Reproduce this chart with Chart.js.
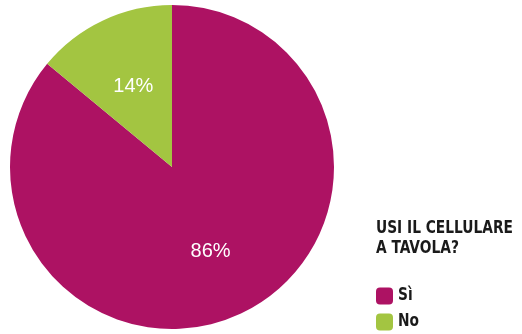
<!DOCTYPE html>
<html>
<head>
<meta charset="utf-8">
<script src="https://cdn.jsdelivr.net/npm/chart.js@4.4.1/dist/chart.umd.min.js"></script>
<style>
  html, body { margin: 0; padding: 0; background: #fff; }
  #wrap { width: 522px; height: 334px; position: relative; }
</style>
</head>
<body>
<div id="wrap"><canvas id="pieChart"></canvas></div>
<script>
// survey answers, share of respondents in percent
const answers = ['Sì', 'No'];
const shares = [86, 14];
const sliceColors = ['#AD1263', '#A3C541'];
const legendTitle = ['USI IL CELLULARE', 'A TAVOLA?'];

const condensed = '"DejaVu Sans Condensed", sans-serif';

// percent text inside each slice
const sliceLabels = {
    id: 'sliceLabels',
    afterDatasetsDraw(chart) {
        const ctx = chart.ctx;
        const meta = chart.getDatasetMeta(0);
        ctx.save();
        ctx.fillStyle = '#fff';
        ctx.font = '20px "Liberation Sans", Arial, sans-serif';
        ctx.textAlign = 'center';
        ctx.textBaseline = 'middle';
        meta.data.forEach((arc, i) => {
            const { x, y, startAngle, endAngle, outerRadius } = arc.getProps(['x', 'y', 'startAngle', 'endAngle', 'outerRadius'], true);
            const mid = (startAngle + endAngle) / 2;
            const d = outerRadius * 0.56;
            ctx.fillText(shares[i] + '%', x + Math.cos(mid) * d, y + Math.sin(mid) * d + 2);
        });
        ctx.restore();
    }
};

// legend block at the lower right with a two-line heading
const sideLegend = {
    id: 'sideLegend',
    afterDraw(chart) {
        const ctx = chart.ctx;
        const left = 376;
        ctx.save();
        ctx.textAlign = 'left';
        ctx.textBaseline = 'middle';
        ctx.font = 'bold 17px ' + condensed;
        // squeeze the heading so its first line is 137px wide
        const sx = 137 / ctx.measureText(legendTitle[0]).width;

        const squeezed = (text, x, y) => {
            ctx.save();
            ctx.translate(x, y);
            ctx.scale(sx, 1);
            ctx.fillText(text, 0, 0);
            ctx.restore();
        };

        ctx.fillStyle = '#1a1a1a';
        legendTitle.forEach((line, i) => squeezed(line, left, 229 + i * 20));

        const meta = chart.getDatasetMeta(0);
        answers.forEach((name, i) => {
            const cy = 296 + i * 26;
            ctx.fillStyle = meta.data[i].options.backgroundColor;
            ctx.beginPath();
            ctx.roundRect(left, cy - 8.5, 17, 17, 4);
            ctx.fill();
            ctx.fillStyle = '#1a1a1a';
            squeezed(name, left + 22, cy);
        });
        ctx.restore();
    }
};

new Chart(document.getElementById('pieChart'), {
    type: 'pie',
    data: {
        labels: answers,
        datasets: [{
            data: shares,
            backgroundColor: sliceColors,
            borderWidth: 0
        }]
    },
    options: {
        responsive: true,
        maintainAspectRatio: false,
        animation: false,
        layout: { padding: { left: 10, right: 188, top: 5, bottom: 5 } },
        plugins: {
            legend: { display: false },
            tooltip: { enabled: false }
        }
    },
    plugins: [sliceLabels, sideLegend]
});
</script>
</body>
</html>
